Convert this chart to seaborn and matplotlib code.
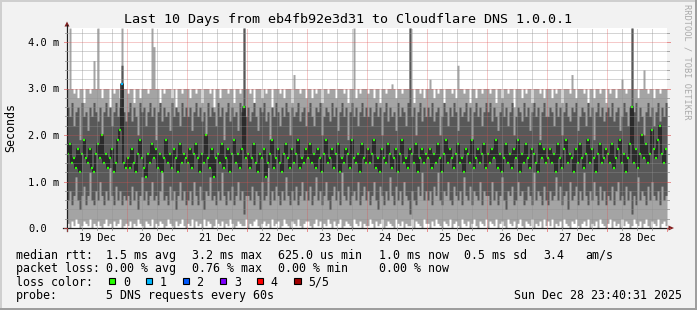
import numpy as np
import pandas as pd
import matplotlib
matplotlib.use("Agg")
import matplotlib.pyplot as plt
import seaborn as sns
from matplotlib.patches import Rectangle, Polygon
from matplotlib.lines import Line2D

# ---------------- data (30 columns per day) -------------
day_labels = ["19 Dec", "20 Dec", "21 Dec", "22 Dec", "23 Dec",
              "24 Dec", "25 Dec", "26 Dec", "27 Dec", "28 Dec"]

# median rtt per column (0.1 ms units)
median_t = [
    16, 18, 14, 15, 13, 17, 12, 16, 19, 15, 14, 17, 13, 12, 16, 18, 15, 20, 14, 16, 13, 15, 17, 12, 14, 19, 21, 31, 14, 13,
    15, 13, 17, 14, 12, 16, 19, 15, 13, 11, 16, 14, 18, 15, 17, 13, 16, 12, 15, 19, 14, 16, 13, 17, 15, 12, 18, 14, 16, 15,
    14, 17, 13, 16, 18, 15, 12, 16, 14, 20, 15, 13, 17, 11, 15, 16, 14, 18, 13, 15, 17, 12, 16, 19, 14, 16, 13, 17, 26, 15,
    16, 13, 15, 18, 14, 12, 16, 15, 17, 11, 14, 16, 19, 13, 15, 17, 14, 12, 16, 18, 15, 13, 17, 14, 16, 19, 13, 15, 14, 17,
    15, 18, 14, 16, 13, 17, 15, 12, 16, 19, 14, 15, 17, 13, 16, 18, 12, 15, 14, 17, 16, 13, 19, 15, 14, 16, 12, 18, 15, 14,
    17, 14, 16, 19, 13, 15, 12, 17, 15, 14, 18, 16, 13, 15, 17, 12, 16, 19, 14, 15, 13, 17, 16, 14, 18, 12, 15, 17, 14, 16,
    15, 17, 13, 16, 14, 18, 15, 12, 16, 19, 14, 17, 15, 13, 16, 18, 14, 15, 12, 17, 16, 14, 19, 13, 15, 17, 14, 16, 18, 13,
    16, 14, 17, 15, 19, 13, 16, 12, 15, 18, 14, 16, 13, 17, 15, 19, 12, 16, 14, 18, 15, 13, 17, 16, 14, 12, 18, 15, 17, 14,
    15, 17, 14, 16, 12, 18, 15, 13, 17, 19, 14, 16, 15, 12, 17, 14, 18, 15, 13, 16, 19, 14, 17, 15, 12, 16, 18, 14, 15, 17,
    16, 14, 18, 13, 15, 17, 19, 14, 16, 12, 15, 18, 26, 14, 17, 13, 16, 20, 15, 18, 14, 16, 21, 17, 15, 19, 22, 16, 14, 17,
]

# lowest ping (0.01 ms units)
low_h = [
    10, 0, 15, 5, 20, 10, 0, 5, 15, 10, 5, 20, 0, 10, 5, 15, 5, 0, 10, 20, 5, 10, 0, 15, 5, 10, 20, 0, 5, 10,
    5, 15, 0, 10, 5, 20, 10, 5, 0, 15, 10, 5, 20, 0, 10, 5, 15, 10, 0, 5, 20, 10, 5, 0, 15, 5, 10, 20, 5, 0,
    10, 5, 20, 0, 15, 5, 10, 0, 20, 5, 15, 10, 0, 5, 20, 10, 5, 15, 0, 10, 5, 20, 10, 0, 5, 15, 10, 5, 5, 20,
    0, 10, 5, 15, 20, 5, 0, 10, 15, 5, 10, 0, 20, 5, 10, 15, 0, 5, 20, 10, 5, 0, 15, 10, 5, 20, 5, 0, 10, 15,
    15, 5, 0, 10, 20, 5, 15, 0, 10, 5, 20, 10, 0, 15, 5, 10, 20, 0, 5, 15, 10, 5, 0, 20, 10, 5, 15, 0, 10, 5,
    5, 20, 10, 0, 15, 5, 10, 20, 0, 5, 15, 10, 5, 0, 20, 10, 5, 15, 0, 10, 5, 5, 20, 0, 15, 10, 5, 0, 20, 10,
    10, 0, 15, 5, 20, 10, 5, 0, 15, 10, 5, 20, 0, 10, 15, 5, 0, 20, 10, 5, 15, 0, 10, 20, 5, 0, 15, 10, 5, 20,
    0, 15, 10, 5, 20, 0, 10, 15, 5, 0, 20, 10, 5, 15, 0, 10, 20, 5, 0, 15, 10, 5, 20, 0, 10, 5, 15, 0, 20, 5,
    15, 5, 20, 0, 10, 5, 15, 0, 20, 10, 5, 0, 15, 10, 20, 5, 0, 10, 15, 5, 20, 0, 10, 5, 15, 0, 20, 10, 5, 0,
    10, 20, 0, 15, 5, 10, 0, 20, 5, 15, 10, 0, 5, 20, 10, 5, 15, 0, 10, 20, 5, 0, 15, 10, 5, 20, 0, 10, 15, 5,
]

# highest ping (0.1 ms units, 43 = off the top of the graph)
high_t = [
    30, 43, 30, 29, 30, 28, 30, 30, 27, 30, 30, 29, 30, 36, 30, 43, 30, 28, 30, 30, 30, 26, 30, 29, 30, 30, 28, 43, 30, 30,
    29, 30, 30, 27, 30, 30, 28, 30, 30, 30, 29, 30, 43, 39, 30, 30, 27, 30, 29, 30, 30, 30, 28, 30, 26, 30, 30, 29, 30, 30,
    30, 28, 30, 30, 29, 30, 30, 27, 30, 30, 30, 29, 30, 26, 30, 30, 28, 30, 30, 30, 29, 30, 30, 27, 30, 30, 29, 30, 43, 30,
    30, 29, 30, 27, 30, 30, 30, 28, 30, 29, 30, 30, 26, 30, 30, 30, 29, 30, 28, 30, 30, 30, 27, 33, 30, 30, 29, 30, 30, 28,
    30, 30, 28, 30, 29, 30, 30, 27, 30, 30, 29, 30, 30, 30, 28, 30, 30, 30, 29, 30, 27, 30, 30, 43, 28, 30, 29, 30, 30, 30,
    29, 30, 30, 28, 30, 30, 27, 30, 30, 29, 30, 30, 31, 30, 28, 30, 30, 29, 30, 30, 30, 43, 30, 27, 30, 30, 29, 30, 28, 30,
    30, 32, 30, 28, 30, 29, 30, 30, 27, 30, 30, 30, 29, 30, 28, 35, 30, 30, 29, 30, 30, 27, 30, 30, 28, 30, 30, 29, 30, 30,
    30, 29, 30, 30, 27, 30, 30, 28, 30, 30, 29, 30, 30, 26, 30, 30, 30, 28, 30, 29, 30, 30, 27, 30, 30, 30, 29, 30, 28, 30,
    30, 30, 28, 30, 29, 30, 30, 27, 30, 30, 30, 29, 33, 30, 28, 30, 30, 30, 29, 30, 27, 30, 30, 28, 30, 30, 29, 30, 30, 27,
    30, 29, 30, 30, 28, 30, 30, 32, 30, 29, 30, 30, 43, 30, 30, 28, 30, 30, 34, 30, 29, 30, 30, 28, 30, 30, 29, 30, 30, 30,
]

# second lowest ping (0.1 ms units)
p2_t = [
    6, 8, 5, 7, 11, 6, 4, 7, 9, 5, 7, 12, 6, 5, 8, 6, 10, 7, 5, 8, 6, 13, 7, 5, 9, 6, 8, 5, 7, 6,
    7, 5, 9, 6, 8, 4, 7, 11, 6, 8, 5, 7, 10, 6, 7, 5, 8, 12, 6, 7, 5, 9, 6, 8, 4, 7, 10, 6, 8, 5,
    6, 8, 5, 10, 7, 5, 9, 6, 4, 8, 7, 11, 6, 7, 5, 8, 6, 12, 7, 5, 8, 6, 9, 5, 7, 10, 6, 8, 3, 7,
    7, 6, 9, 5, 8, 7, 4, 10, 6, 7, 13, 5, 8, 6, 9, 7, 5, 8, 6, 11, 7, 5, 8, 6, 9, 5, 7, 10, 6, 8,
    6, 9, 5, 7, 11, 6, 8, 5, 7, 10, 6, 4, 7, 9, 6, 8, 5, 12, 7, 6, 9, 5, 7, 8, 6, 10, 5, 7, 9, 6,
    8, 5, 7, 10, 6, 4, 9, 7, 5, 8, 6, 11, 7, 5, 9, 6, 8, 5, 10, 7, 6, 3, 8, 6, 5, 9, 7, 12, 6, 8,
    6, 8, 5, 9, 7, 12, 6, 5, 8, 7, 10, 6, 5, 9, 7, 6, 8, 5, 11, 7, 6, 9, 5, 8, 7, 6, 10, 5, 8, 7,
    7, 5, 10, 6, 8, 5, 7, 11, 6, 4, 8, 7, 9, 5, 6, 10, 7, 8, 5, 6, 9, 7, 5, 12, 6, 8, 7, 5, 9, 6,
    5, 8, 6, 7, 11, 6, 9, 5, 7, 8, 4, 10, 6, 7, 9, 5, 8, 6, 12, 7, 5, 8, 6, 10, 7, 5, 9, 6, 8, 5,
    7, 6, 9, 5, 8, 10, 6, 7, 5, 9, 6, 8, 3, 7, 5, 11, 6, 8, 7, 5, 9, 6, 10, 7, 6, 8, 5, 9, 6, 7,
]

# second highest ping (0.1 ms units)
p4_t = [
    26, 24, 27, 22, 25, 26, 19, 27, 24, 25, 21, 26, 24, 27, 25, 23, 26, 20, 25, 27, 24, 26, 22, 25, 27, 24, 26, 35, 25, 23,
    25, 27, 23, 26, 24, 20, 27, 25, 26, 22, 25, 27, 24, 26, 19, 25, 27, 23, 26, 24, 25, 21, 27, 24, 26, 25, 22, 27, 24, 26,
    24, 26, 21, 25, 27, 24, 26, 23, 25, 20, 27, 24, 26, 25, 22, 27, 24, 26, 19, 25, 27, 23, 26, 24, 25, 21, 27, 25, 43, 24,
    26, 23, 25, 27, 24, 21, 26, 25, 27, 23, 25, 19, 26, 24, 27, 25, 22, 26, 24, 27, 25, 20, 26, 24, 25, 27, 23, 25, 26, 22,
    25, 27, 24, 22, 26, 25, 27, 20, 24, 26, 25, 23, 27, 24, 26, 21, 25, 27, 24, 26, 19, 25, 27, 24, 26, 22, 25, 27, 24, 26,
    24, 26, 22, 25, 27, 24, 26, 20, 25, 27, 23, 26, 24, 25, 21, 27, 24, 26, 25, 22, 27, 43, 24, 26, 20, 25, 27, 23, 26, 24,
    26, 24, 27, 23, 25, 26, 20, 24, 27, 25, 22, 26, 24, 27, 25, 21, 26, 24, 25, 27, 23, 26, 19, 25, 27, 24, 26, 22, 25, 27,
    25, 27, 23, 26, 24, 21, 25, 27, 24, 26, 22, 25, 27, 20, 24, 26, 25, 23, 27, 24, 26, 21, 25, 27, 24, 26, 19, 25, 27, 24,
    24, 26, 25, 22, 27, 24, 26, 20, 25, 27, 24, 23, 26, 25, 27, 21, 24, 26, 25, 22, 27, 24, 26, 19, 25, 27, 24, 26, 23, 25,
    26, 24, 27, 23, 25, 26, 21, 24, 27, 25, 22, 26, 43, 25, 27, 23, 26, 24, 20, 25, 27, 24, 26, 22, 25, 27, 23, 26, 24, 27,
]

# columns with packet loss and their loss level (all others: 0 lost)
loss_cols = [27]
loss_levels = [1]

loss_colors = ["#26ff00", "#00b8ff", "#0059ff", "#7e00ff", "#ff0000", "#a00000"]
loss_names = ["0", "1", "2", "3", "4", "5/5"]

# ---------------- figure ----------------
W, H = 697, 310
plt.rcParams["font.family"] = ["DejaVu Sans Mono"]
fig = plt.figure(figsize=(W / 100, H / 100), dpi=100, facecolor="#f2f2f2")

ymax = 200 / 46.5
ax = fig.add_axes([67 / W, (H - 228) / H, 600 / W, 200 / H])
ax.set_facecolor("white")
for s in ax.spines.values():
    s.set_visible(False)

n = len(median_t)
dx = 10 / n
x_left = np.arange(n) * dx
x_edges = np.append(x_left, 10)

med = np.array(median_t) / 10
lo = np.array(low_h) / 100
hi = np.minimum(np.array(high_t) / 10, ymax)
p2 = np.array(p2_t) / 10
p4 = np.minimum(np.array(p4_t) / 10, ymax)

def ext(a):
    return np.append(a, a[-1])

ax.fill_between(x_edges, ext(lo), ext(hi), step="post", color="#a4a4a4", lw=0, zorder=1)
ax.fill_between(x_edges, ext(p2), ext(p4), step="post", color="#585858", lw=0, zorder=2)

df = pd.DataFrame({"t": x_edges, "median": ext(med)})
sns.lineplot(data=df, x="t", y="median", ax=ax, drawstyle="steps-post",
             color="#1e1e1e", linewidth=1.1, estimator=None, sort=False,
             legend=False, zorder=3)

lvl = np.zeros(n, dtype=int)
for c, l in zip(loss_cols, loss_levels):
    lvl[c] = l
cols = [loss_colors[v] for v in lvl]
ax.hlines(med, x_left + dx * 0.1, x_left + dx * 0.9, colors=cols, lw=1.6, zorder=4)

ax.set_xlabel("")
ax.set_ylabel("")
ax.set_xticks([])
ax.set_yticks([])
ax.set_xlim(0, 10)
ax.set_ylim(0, ymax)

# grid on top of data
gcol = (0.56, 0.56, 0.56, 0.75)
mcol = (0.87, 0.31, 0.31, 0.6)
dot = (0, (1, 1))
for v in np.arange(0.2, 4.3, 0.2):
    if abs(v - round(v)) > 1e-6:
        ax.axhline(v, color=gcol, lw=0.72, ls=dot, zorder=6)
for v in [1, 2, 3, 4]:
    ax.axhline(v, color=mcol, lw=0.72, ls=dot, zorder=7)
for v in np.arange(0.25, 10, 0.25):
    if abs(v - round(v)) > 1e-6:
        ax.axvline(v, color=gcol, lw=0.72, ls=dot, zorder=6)
for v in range(1, 10):
    ax.axvline(v, color=mcol, lw=0.72, ls=dot, zorder=7)

# ---------------- overlay in pixel coordinates ----------------
ov = fig.add_axes([0, 0, 1, 1], zorder=5)
ov.set_xlim(0, W)
ov.set_ylim(H, 0)
ov.axis("off")
ov.patch.set_visible(False)

# frame shading
ov.add_patch(Rectangle((0, 0), W, 2, color="#cfcfcf", lw=0))
ov.add_patch(Rectangle((0, 0), 2, H, color="#cfcfcf", lw=0))
ov.add_patch(Rectangle((0, H - 2), W, 2, color="#9e9e9e", lw=0))
ov.add_patch(Rectangle((W - 2, 0), 2, H, color="#9e9e9e", lw=0))

axc = (0.12, 0.12, 0.12)
arc = (0.5, 0.12, 0.12)
ov.add_line(Line2D([63, 669], [228, 228], color=axc, lw=0.9))
ov.add_line(Line2D([67, 67], [231, 25], color=axc, lw=0.9))
ov.add_patch(Polygon([(64.5, 26.5), (69.5, 26.5), (67, 21.5)], closed=True, color=arc, lw=0))
ov.add_patch(Polygon([(668.5, 225.5), (668.5, 230.5), (674, 228)], closed=True, color=arc, lw=0))

# small tick marks outside the plot
for k in range(0, 41):
    xp = 67 + 15 * k
    major = k % 4 == 0
    ov.add_line(Line2D([xp, xp], [228, 231 if major else 230],
                       color=mcol if major else gcol, lw=0.72))
for k in range(0, 22):
    yp = 228 - 46.5 * 0.2 * k
    major = k % 5 == 0
    ov.add_line(Line2D([64 if major else 65, 67], [yp, yp],
                       color=mcol if major else gcol, lw=0.72))
    ov.add_line(Line2D([667, 670 if major else 669], [yp, yp],
                       color=mcol if major else gcol, lw=0.72))

# titles and labels
ov.text(347.5, 23.5, "Last 10 Days from eb4fb92e3d31 to Cloudflare DNS 1.0.0.1",
        ha="center", va="baseline", fontsize=9.6, color="black")
ov.text(11, 127, "Seconds", rotation=90, ha="center", va="center", fontsize=8.4)
ov.text(687.5, 4.5, "RRDTOOL / TOBI OETIKER", rotation=270, ha="center", va="top",
        fontsize=6.2, color="#aaaaaa")

ytick_vals = [0, 1, 2, 3, 4]
ytick_labels = ["0.0", "1.0 m", "2.0 m", "3.0 m", "4.0 m"]
for v, lab in zip(ytick_vals, ytick_labels):
    ov.text(28.5, 228 - 46.5 * v + 4, lab, ha="left", va="baseline", fontsize=7.5)
for i, lab in enumerate(day_labels):
    ov.text(67 + 30 + 60 * i, 241.3, lab, ha="center", va="baseline", fontsize=7.4)

fs = 8.4
rows = [258.7, 272.2, 285.7, 299.3]
row1 = [(15.5, "median rtt:"), (106.5, "1.5 ms avg"), (192.3, "3.2 ms max"),
        (278.2, "625.0 us min"), (379.3, "1.0 ms now"), (464.3, "0.5 ms sd"),
        (543.3, "3.4"), (585.5, "am/s")]
row2 = [(15.5, "packet loss:"), (106.5, "0.00 % avg"), (192.3, "0.76 % max"),
        (278.2, "0.00 % min"), (379.3, "0.00 % now")]
for xp, t in row1:
    ov.text(xp, rows[0], t, ha="left", va="baseline", fontsize=fs)
for xp, t in row2:
    ov.text(xp, rows[1], t, ha="left", va="baseline", fontsize=fs)
ov.text(15.5, rows[2], "loss color:", ha="left", va="baseline", fontsize=fs)
box_x = [108.5, 145.5, 182.5, 219.5, 256.5, 294.0]
lab_x = [123.3, 160.0, 196.6, 234.6, 270.3, 308.3]
for bx, lx, c, nm in zip(box_x, lab_x, loss_colors, loss_names):
    ov.add_patch(Rectangle((bx, 277.5), 6.5, 6.5, facecolor=c, edgecolor="black", lw=0.8))
    ov.text(lx, rows[2], nm, ha="left", va="baseline", fontsize=fs)
ov.text(15.5, rows[3], "probe:", ha="left", va="baseline", fontsize=fs)
ov.text(106.5, rows[3], "5 DNS requests every 60s", ha="left", va="baseline", fontsize=fs)
ov.text(681.5, rows[3], "Sun Dec 28 23:40:31 2025", ha="right", va="baseline", fontsize=fs)

fig.savefig("out.png", dpi=100, facecolor=fig.get_facecolor())
